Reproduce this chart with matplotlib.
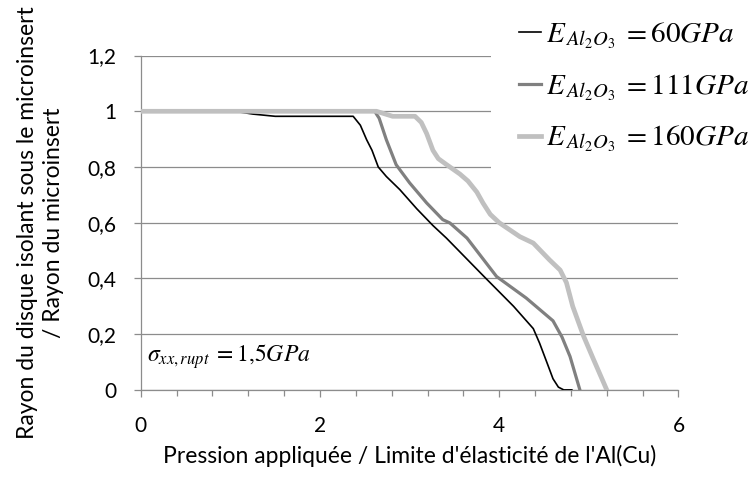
import numpy as np
import matplotlib
matplotlib.use('Agg')
from matplotlib import pyplot as plt
from matplotlib.ticker import MultipleLocator, FuncFormatter

# E = 60 GPa
x_60 = [0, 1.05, 1.25, 1.5, 2.37, 2.45, 2.52, 2.58, 2.65, 2.74, 2.89, 3.08, 3.26, 3.41,
        3.83, 4.16, 4.38, 4.45, 4.53, 4.60, 4.66, 4.72, 4.81]
y_60 = [1, 1, 0.99, 0.982, 0.982, 0.95, 0.898, 0.86, 0.80, 0.766, 0.719, 0.65, 0.59, 0.545,
        0.407, 0.30, 0.22, 0.168, 0.10, 0.04, 0.01, 0, 0]

# E = 111 GPa
x_111 = [0, 2.61, 2.66, 2.74, 2.85, 3.00, 3.19, 3.37, 3.45, 3.64, 3.97, 4.30, 4.60,
         4.70, 4.79, 4.90]
y_111 = [1, 1, 0.975, 0.898, 0.808, 0.743, 0.671, 0.611, 0.599, 0.545, 0.407, 0.33, 0.248,
         0.19, 0.12, 0]

# E = 160 GPa
x_160 = [0, 2.63, 2.81, 3.06, 3.13, 3.19, 3.26, 3.32, 3.41, 3.56, 3.65, 3.75, 3.82, 3.90,
         4.00, 4.23, 4.38, 4.56, 4.68, 4.75, 4.82, 4.94, 5.05, 5.20]
y_160 = [1, 1, 0.982, 0.982, 0.96, 0.92, 0.86, 0.83, 0.809, 0.775, 0.75, 0.71, 0.67, 0.63,
         0.60, 0.55, 0.527, 0.467, 0.43, 0.385, 0.30, 0.194, 0.111, 0]

labels = [r'$E_{\,Al_2O_3}\;=60GPa$', r'$E_{\,Al_2O_3}\;=111GPa$',
          r'$E_{\,Al_2O_3}\;=160GPa$']

plt.rcParams['font.family'] = ['Lato', 'DejaVu Sans']
plt.rcParams['mathtext.fontset'] = 'stix'

fig = plt.figure(figsize=(7.53, 4.79), dpi=100)
ax = fig.add_axes([0.187, 0.186, 0.714, 0.698])

grey = '#8c8c8c'
l1, = ax.plot(x_60, y_60, color='black', lw=1.2, solid_joinstyle='round', zorder=3)
l2, = ax.plot(x_111, y_111, color='#808080', lw=2.3, solid_joinstyle='round', zorder=3)
l3, = ax.plot(x_160, y_160, color='#c0c0c0', lw=3.4, solid_joinstyle='round', zorder=3)

ax.set_xlim(0, 6)
ax.set_ylim(0, 1.2)
ax.xaxis.set_major_locator(MultipleLocator(2))
ax.xaxis.set_minor_locator(MultipleLocator(0.4))
ax.yaxis.set_major_locator(MultipleLocator(0.2))
fmt = FuncFormatter(lambda v, p: ('%g' % round(v, 2)).replace('.', ','))
ax.yaxis.set_major_formatter(fmt)

ax.grid(axis='y', color=grey, lw=0.9)
ax.set_axisbelow(True)
for s in ['top', 'right']:
    ax.spines[s].set_visible(False)
for s in ['left', 'bottom']:
    ax.spines[s].set_color(grey)
    ax.spines[s].set_linewidth(0.9)

ax.tick_params(axis='both', which='both', direction='out', color=grey, width=0.9,
               labelsize=15, labelcolor='black')
ax.tick_params(axis='x', which='major', length=5, pad=14)
ax.tick_params(axis='x', which='minor', length=4)
ax.tick_params(axis='y', which='major', length=5, pad=12.5)

ax.set_xlabel("Pression appliquée / Limite d'élasticité de l'Al(Cu)", fontsize=16.5, labelpad=6)
ax.set_ylabel("Rayon du disque isolant sous le microinsert\n/ Rayon du microinsert",
              fontsize=16.5, labelpad=17, linespacing=1.3)

ax.text(0.07, 0.12, r'$\sigma_{xx,rupt}\;=1{,}5GPa$', fontsize=17, va='center', ha='left')

leg = ax.legend([l1, l2, l3], labels, loc='upper left', bbox_to_anchor=(0.652, 1.015),
                bbox_transform=fig.transFigure, fontsize=21, frameon=True, framealpha=1,
                edgecolor='none', facecolor='white', handlelength=0.75, handletextpad=0.2,
                borderpad=0.95, labelspacing=0.72, borderaxespad=0)

fig.savefig('out.png', dpi=100)
